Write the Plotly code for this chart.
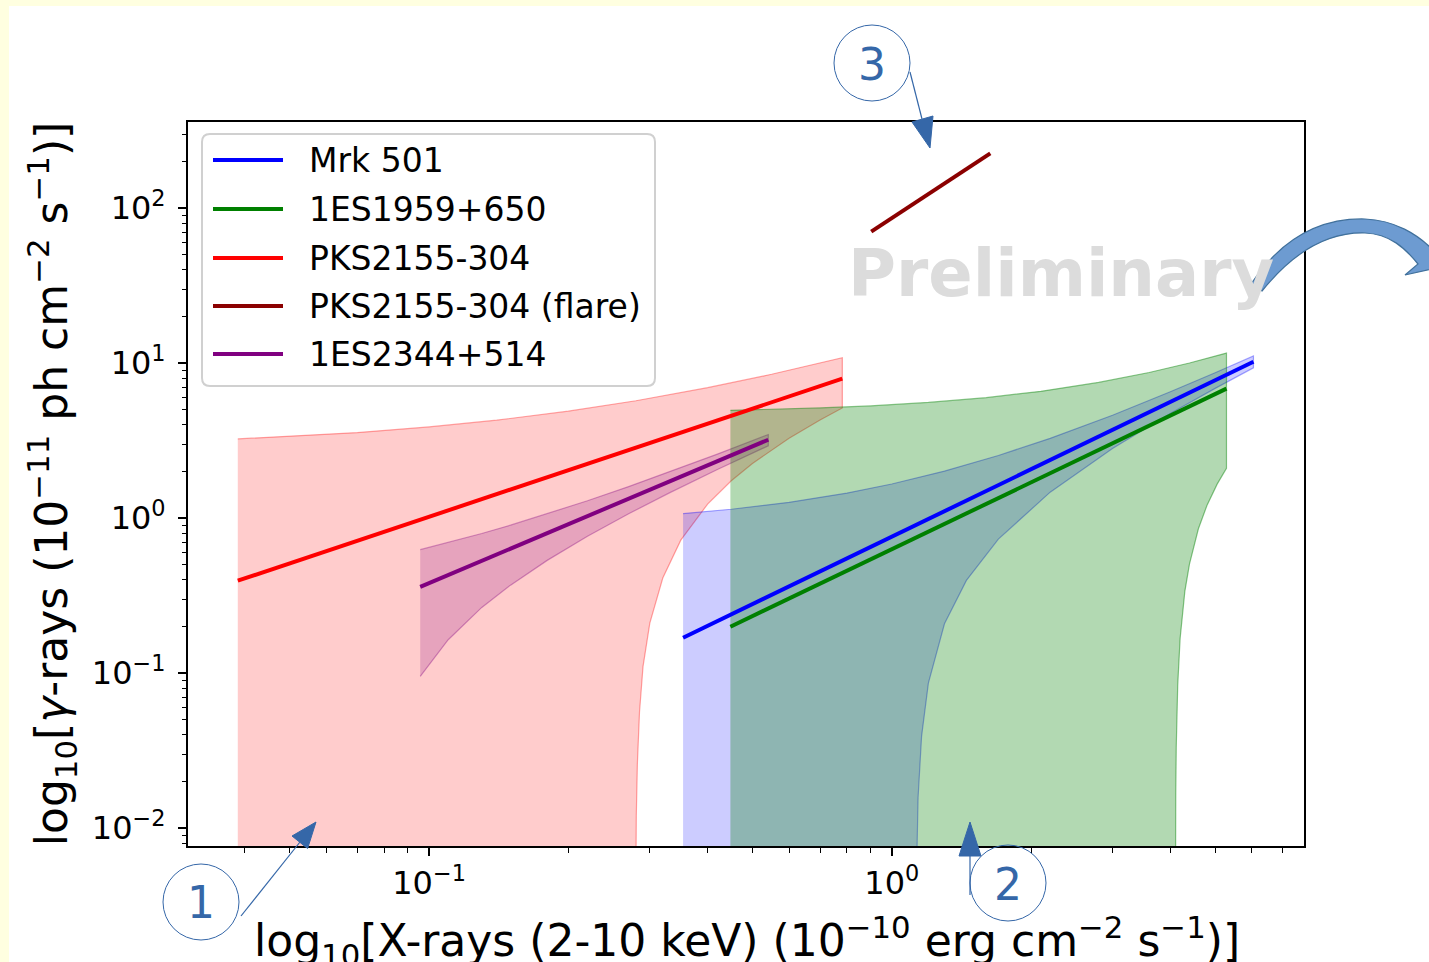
import plotly.graph_objects as go

# ---------------- data ----------------
series_names = ["Mrk 501", "1ES1959+650", "PKS2155-304", "PKS2155-304 (flare)", "1ES2344+514"]
series_colors = ["#0000FF", "#008000", "#FF0000", "#8B0000", "#800080"]

# fitted lines (X-ray flux, gamma-ray flux)
mrk501_x = [0.354, 6.05]
mrk501_y = [0.169, 10.2]
es1959_x = [0.448, 5.29]
es1959_y = [0.199, 6.84]
pks2155_x = [0.0386, 0.782]
pks2155_y = [0.394, 7.93]
pksflare_x = [0.903, 1.633]
pksflare_y = [70.5, 225.0]
es2344_x = [0.0957, 0.541]
es2344_y = [0.36, 3.2]

# confidence bands: upper edges and lower edges (0.001 = below the axis)
pks2155_up_x = [0.0386, 0.05, 0.07, 0.1, 0.14, 0.2, 0.28, 0.4, 0.55, 0.782]
pks2155_up_y = [3.24, 3.36, 3.56, 3.87, 4.28, 4.89, 5.71, 6.93, 8.46, 10.83]
pks2155_lo_x = [0.0386, 0.279, 0.2805, 0.282, 0.285, 0.29, 0.30, 0.32, 0.35, 0.40, 0.45, 0.50, 0.60, 0.70, 0.782]
pks2155_lo_y = [0.001, 0.001, 0.012, 0.026, 0.056, 0.11, 0.21, 0.41, 0.72, 1.23, 1.74, 2.25, 3.27, 4.29, 5.13]

es2344_band_x = [0.0957, 0.11, 0.13, 0.15, 0.18, 0.22, 0.27, 0.33, 0.42, 0.541]
es2344_up_y = [0.625, 0.694, 0.795, 0.899, 1.063, 1.292, 1.595, 1.978, 2.585, 3.455]
es2344_lo_y = [0.095, 0.164, 0.265, 0.369, 0.533, 0.762, 1.065, 1.448, 2.055, 2.925]

mrk501_up_x = [0.354, 0.45, 0.6, 0.8, 1.0, 1.3, 1.7, 2.2, 3.0, 4.0, 5.0, 6.05]
mrk501_up_y = [1.069, 1.139, 1.262, 1.449, 1.658, 2.008, 2.531, 3.268, 4.606, 6.52, 8.66, 11.11]
mrk501_lo_x = [0.354, 1.125, 1.13, 1.14, 1.16, 1.2, 1.3, 1.45, 1.7, 2.2, 3.0, 4.0, 5.0, 6.05]
mrk501_lo_y = [0.001, 0.001, 0.0042, 0.0157, 0.039, 0.086, 0.208, 0.396, 0.731, 1.468, 2.806, 4.72, 6.86, 9.31]

es1959_up_x = [0.448, 0.55, 0.7, 0.9, 1.2, 1.6, 2.1, 2.8, 3.6, 4.4, 5.29]
es1959_up_y = [4.95, 5.02, 5.13, 5.29, 5.57, 5.98, 6.57, 7.50, 8.69, 10.00, 11.59]
es1959_lo_x = [0.448, 4.10, 4.11, 4.12, 4.15, 4.2, 4.3, 4.4, 4.6, 4.8, 5.05, 5.29]
es1959_lo_y = [0.001, 0.001, 0.0166, 0.033, 0.083, 0.167, 0.336, 0.504, 0.852, 1.205, 1.654, 2.094]

y_tickvals = [0.01, 0.1, 1, 10, 100]
y_ticktext = ["10<sup>−2</sup>", "10<sup>−1</sup>", "10<sup>0</sup>", "10<sup>1</sup>", "10<sup>2</sup>"]
x_tickvals = [0.1, 1]
x_ticktext = ["10<sup>−1</sup>", "10<sup>0</sup>"]

x_title = "log<sub>10</sub>[X-rays (2-10 keV) (10<sup>−10</sup> erg cm<sup>−2</sup> s<sup>−1</sup>)]"
y_title = "log<sub>10</sub>[<i>γ</i>-rays (10<sup>−11</sup> ph cm<sup>−2</sup> s<sup>−1</sup>)]"

# ---------------- layout geometry ----------------
W, H = 1429, 962
L, R, T, B = 188, 125, 122, 116
PW, PH = W - L - R, H - T - B


def px(x):
    return (x - L) / PW


def py(y):
    return (H - B - y) / PH


def rgba(hexc, a):
    h = hexc.lstrip("#")
    return "rgba(%d,%d,%d,%s)" % (int(h[0:2], 16), int(h[2:4], 16), int(h[4:6], 16), a)


FONT = "DejaVu Sans"
fig = go.Figure()


def band(xu, yu, xl, yl, color, alpha):
    xs = list(xu) + list(xl)[::-1]
    ys = list(yu) + list(yl)[::-1]
    fig.add_trace(go.Scatter(
        x=xs, y=ys, mode="lines", fill="toself",
        fillcolor=rgba(color, alpha),
        line=dict(color=rgba(color, alpha + 0.15), width=1.2),
        showlegend=False, hoverinfo="skip"))


band(pks2155_up_x, pks2155_up_y, pks2155_lo_x, pks2155_lo_y, series_colors[2], 0.2)
band(es2344_band_x, es2344_up_y, es2344_band_x, es2344_lo_y, series_colors[4], 0.2)
band(mrk501_up_x, mrk501_up_y, mrk501_lo_x, mrk501_lo_y, series_colors[0], 0.2)
band(es1959_up_x, es1959_up_y, es1959_lo_x, es1959_lo_y, series_colors[1], 0.3)

lines = [(mrk501_x, mrk501_y), (es1959_x, es1959_y), (pks2155_x, pks2155_y),
         (pksflare_x, pksflare_y), (es2344_x, es2344_y)]
for (lx, ly), name, col in zip(lines, series_names, series_colors):
    fig.add_trace(go.Scatter(x=lx, y=ly, mode="lines", name=name,
                             line=dict(color=col, width=4), showlegend=False))

shapes = []
annotations = []

# white page area on the light-yellow background
shapes.append(dict(type="rect", xref="paper", yref="paper", layer="below",
                   x0=px(9), x1=px(W + 5), y0=py(H + 5), y1=py(6),
                   fillcolor="white", line=dict(width=0)))

# legend box (rounded)
lx0, lx1, ly0, ly1, rr = 202, 655, 134, 386, 8
path = ("M {a},{b} L {c},{b} Q {d},{b} {d},{e} L {d},{f} Q {d},{g} {c},{g} "
        "L {a},{g} Q {h},{g} {h},{f} L {h},{e} Q {h},{b} {a},{b} Z").format(
    a=px(lx0 + rr), c=px(lx1 - rr), d=px(lx1), h=px(lx0),
    b=py(ly0), e=py(ly0 + rr), f=py(ly1 - rr), g=py(ly1))
shapes.append(dict(type="path", xref="paper", yref="paper", path=path,
                   fillcolor="rgba(255,255,255,0.8)", line=dict(color="#D0D0D0", width=2)))
legend_rows = [160, 209, 258, 306, 354]
for name, col, yy in zip(series_names, series_colors, legend_rows):
    shapes.append(dict(type="line", xref="paper", yref="paper",
                       x0=px(213), x1=px(283), y0=py(yy), y1=py(yy),
                       line=dict(color=col, width=4)))
    annotations.append(dict(text=name, xref="paper", yref="paper", x=px(307), y=py(yy),
                            xanchor="left", yanchor="middle", showarrow=False,
                            font=dict(family=FONT, size=33, color="black")))

# x-axis title (placed as text below the tick labels)
annotations.append(dict(text=x_title, xref="paper", yref="paper", x=px(747), y=py(941),
                        xanchor="center", yanchor="middle", showarrow=False,
                        font=dict(family=FONT, size=44, color="black")))

# "Preliminary" watermark
annotations.append(dict(text="<b>Preliminary</b>", xref="paper", yref="paper",
                        x=px(846), y=py(273), xanchor="left", yanchor="middle", showarrow=False,
                        font=dict(family=FONT, size=65.5, color="#DCDCDC")))

# numbered circles with arrows
BLUE = "#3567A8"
for num, cx, cy in [("1", 201, 902), ("2", 1008, 883), ("3", 872, 63)]:
    r = 38
    shapes.append(dict(type="circle", xref="paper", yref="paper",
                       x0=px(cx - r), x1=px(cx + r), y0=py(cy + r), y1=py(cy - r),
                       line=dict(color=BLUE, width=1)))
    annotations.append(dict(text=num, xref="paper", yref="paper", x=px(cx), y=py(cy + 1),
                            xanchor="center", yanchor="middle", showarrow=False,
                            font=dict(family=FONT, size=44, color=BLUE)))

arrows = [((241, 916), (300, 842), [(316, 822), (307.6, 848.5), (292, 836)]),
          ((970, 895), (970, 852), [(970, 822), (959, 856), (981, 856)]),
          ((910, 72), (922, 119), [(930, 148), (933, 116), (912, 122)])]
for (sx, sy), (ex, ey), tri in arrows:
    shapes.append(dict(type="line", xref="paper", yref="paper",
                       x0=px(sx), y0=py(sy), x1=px(ex), y1=py(ey),
                       line=dict(color=BLUE, width=1.2)))
    p = "M {},{} L {},{} L {},{} Z".format(px(tri[0][0]), py(tri[0][1]), px(tri[1][0]), py(tri[1][1]),
                                          px(tri[2][0]), py(tri[2][1]))
    shapes.append(dict(type="path", xref="paper", yref="paper", path=p,
                       fillcolor=BLUE, line=dict(color=BLUE, width=1)))

# curved block arrow on the right
pts = ("M {},{} C {},{} {},{} {},{} C {},{} {},{} {},{} L {},{} L {},{} L {},{} "
       "C {},{} {},{} {},{} C {},{} {},{} {},{} Z")
cpx = [(1251, 284), (1283, 236), (1322, 218), (1365, 219), (1395, 220), (1418, 235), (1432, 249),
       (1450, 265), (1405, 275), (1418, 264),
       (1405, 248), (1390, 234), (1365, 233), (1330, 232), (1295, 250), (1262, 291)]
vals = []
for (a, b) in cpx:
    vals += [px(a), py(b)]
shapes.append(dict(type="path", xref="paper", yref="paper", path=pts.format(*vals),
                   fillcolor="#6D9BD1", line=dict(color="#41719C", width=1.2)))

axis_common = dict(type="log", showline=True, linecolor="black", linewidth=2, mirror=True,
                   ticks="outside", ticklen=8, tickwidth=1.8, tickcolor="black",
                   showgrid=False, zeroline=False, automargin=False,
                   tickfont=dict(family=FONT, size=32, color="black"))

x_minor = [k * 10 ** e for e in (-2, -1, 0) for k in range(2, 10) if 0.03 < k * 10 ** e < 7.8]
y_minor = [k * 10 ** e for e in (-3, -2, -1, 0, 1, 2) for k in range(2, 10) if 0.0076 < k * 10 ** e < 359]

fig.update_layout(
    width=W, height=H, margin=dict(l=L, r=R, t=T, b=B, autoexpand=False),
    paper_bgcolor="#FFFFE0", plot_bgcolor="rgba(0,0,0,0)",
    showlegend=False, shapes=shapes, annotations=annotations,
    font=dict(family=FONT, color="black"),
    xaxis=dict(axis_common, range=[-1.521, 0.891], tickmode="array",
               tickvals=x_tickvals, ticktext=x_ticktext,
               minor=dict(ticks="outside", ticklen=4.5, tickwidth=1.3, tickcolor="black",
                          tickmode="array", tickvals=x_minor, showgrid=False)),
    yaxis=dict(axis_common, range=[-2.116, 2.555], tickmode="array",
               tickvals=y_tickvals, ticktext=y_ticktext, ticklabelstandoff=6,
               minor=dict(ticks="outside", ticklen=4.5, tickwidth=1.3, tickcolor="black",
                          tickmode="array", tickvals=y_minor, showgrid=False),
               title=dict(text=y_title, font=dict(family=FONT, size=44, color="black"), standoff=10)),
)

fig.write_html("out.html", config={"displayModeBar": False},
               post_script="document.body.style.margin='0';document.body.style.overflow='hidden';")
